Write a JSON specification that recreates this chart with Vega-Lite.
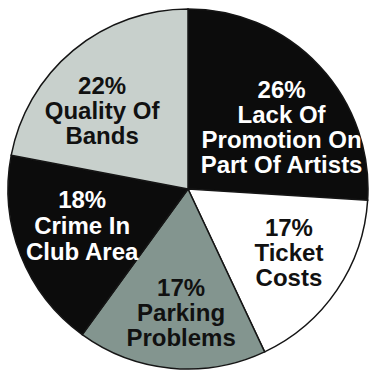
{
  "$schema": "https://vega.github.io/schema/vega-lite/v6.json",
  "autosize": "none",
  "width": 360,
  "height": 362,
  "padding": {"left": 8, "top": 8, "right": 1, "bottom": 2},
  "background": "white",
  "data": {
    "values": [
      {"idx": 1, "category": "Lack Of Promotion On Part Of Artists", "pct": 26, "label": ["26%", "Lack Of", "Promotion On", "Part Of Artists"]},
      {"idx": 2, "category": "Ticket Costs", "pct": 17, "label": ["17%", "Ticket", "Costs"]},
      {"idx": 3, "category": "Parking Problems", "pct": 17, "label": ["17%", "Parking", "Problems"]},
      {"idx": 4, "category": "Crime In Club Area", "pct": 18, "label": ["18%", "Crime In", "Club Area"]},
      {"idx": 5, "category": "Quality Of Bands", "pct": 22, "label": ["22%", "Quality Of", "Bands"]}
    ]
  },
  "encoding": {
    "theta": {"field": "pct", "type": "quantitative", "stack": true},
    "order": {"field": "idx", "type": "ordinal"}
  },
  "layer": [
    {
      "mark": {"type": "arc", "stroke": "#151515", "strokeWidth": 1.5},
      "encoding": {
        "fill": {
          "field": "category",
          "type": "nominal",
          "legend": null,
          "scale": {
            "domain": ["Lack Of Promotion On Part Of Artists", "Ticket Costs", "Parking Problems", "Crime In Club Area", "Quality Of Bands"],
            "range": ["#0c0c0c", "#ffffff", "#83958f", "#0c0c0c", "#c8d0cc"]
          }
        }
      }
    },
    {
      "mark": {"type": "text", "radius": 116, "dx": 9, "dy": -19, "font": "Liberation Sans", "fontWeight": "bold", "fontSize": 24, "lineHeight": 25, "align": "center", "baseline": "middle", "color": "#ffffff"},
      "encoding": {"text": {"condition": {"test": "datum.idx === 1", "field": "label"}, "value": ""}}
    },
    {
      "mark": {"type": "text", "radius": 116, "dx": 5, "dy": -25, "font": "Liberation Sans", "fontWeight": "bold", "fontSize": 24, "lineHeight": 25, "align": "center", "baseline": "middle", "color": "#111111"},
      "encoding": {"text": {"condition": {"test": "datum.idx === 2", "field": "label"}, "value": ""}}
    },
    {
      "mark": {"type": "text", "radius": 116, "dx": 4, "dy": -15, "font": "Liberation Sans", "fontWeight": "bold", "fontSize": 24, "lineHeight": 25, "align": "center", "baseline": "middle", "color": "#111111"},
      "encoding": {"text": {"condition": {"test": "datum.idx === 3", "field": "label"}, "value": ""}}
    },
    {
      "mark": {"type": "text", "radius": 116, "dx": 2, "dy": -31, "font": "Liberation Sans", "fontWeight": "bold", "fontSize": 24, "lineHeight": 26, "align": "center", "baseline": "middle", "color": "#ffffff"},
      "encoding": {"text": {"condition": {"test": "datum.idx === 4", "field": "label"}, "value": ""}}
    },
    {
      "mark": {"type": "text", "radius": 116, "dx": -12, "dy": -13, "font": "Liberation Sans", "fontWeight": "bold", "fontSize": 24, "lineHeight": 25, "align": "center", "baseline": "middle", "color": "#111111"},
      "encoding": {"text": {"condition": {"test": "datum.idx === 5", "field": "label"}, "value": ""}}
    }
  ],
  "resolve": {"scale": {"fill": "independent"}},
  "config": {"view": {"stroke": null}}
}
